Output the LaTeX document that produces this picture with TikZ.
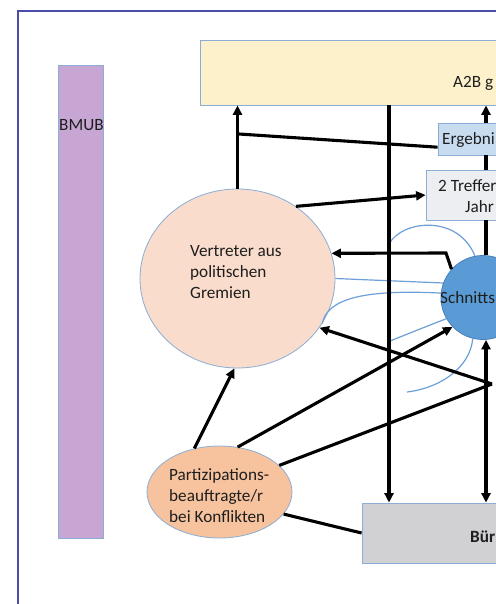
\documentclass[tikz,border=0pt]{standalone}
\usepackage{fontspec}
\setmainfont{Carlito}
\usetikzlibrary{arrows.meta,shapes.geometric,calc}

\definecolor{framecol}{HTML}{4B4BA8}
\definecolor{edge}{HTML}{8AAED6}
\definecolor{a2bfill}{HTML}{FDF1CB}
\definecolor{bmubfill}{HTML}{C7A6D4}
\definecolor{ergfill}{HTML}{C8DCF0}
\definecolor{trefffill}{HTML}{EDEEF1}
\definecolor{vertfill}{HTML}{F9DCCB}
\definecolor{partfill}{HTML}{F7C39F}
\definecolor{schfill}{HTML}{5B9BD5}
\definecolor{schedge}{HTML}{4A7EBB}
\definecolor{burfill}{HTML}{D1D1D3}
\definecolor{fieldblue}{HTML}{6DA0D8}
\definecolor{txt}{HTML}{1E1E1E}

\begin{document}
\begin{tikzpicture}[x=1pt,y=-1pt,
  lbl/.style={font=\fontsize{17.2}{21}\selectfont, inner sep=0, align=left, text=txt},
  boxshape/.style={draw=edge, line width=0.8pt, rectangle, inner sep=0},
  bubble/.style={draw=edge, line width=0.8pt, ellipse, inner sep=0},
  link/.style={line width=3.1pt, draw=black},
  arr/.style={link, -{Triangle[length=9.5pt,width=9pt]}},
  dblarr/.style={link, {Triangle[length=9.5pt,width=9pt]}-{Triangle[length=9.5pt,width=9pt]}},
  field/.style={line width=1.2pt, draw=fieldblue}
]
\useasboundingbox (0,0) rectangle (495,604);
\fill[white] (0,0) rectangle (495,604);

% outer frame
\draw[framecol, line width=2pt] (18,640) -- (18,11) -- (540,11);

% boxes
\node[boxshape, fill=a2bfill, minimum width=330pt, minimum height=65pt] (a2b) at (365,72.5) {};
\node[boxshape, fill=bmubfill, minimum width=45pt, minimum height=473pt] (bmub) at (80.5,301.5) {};
\node[boxshape, fill=ergfill, minimum width=92pt, minimum height=32pt] (erg) at (484,139) {};
\node[boxshape, fill=trefffill, minimum width=104pt, minimum height=50pt] (treff) at (478,195) {};
\node[boxshape, fill=burfill, minimum width=168pt, minimum height=60pt] (bur) at (446,533) {};

% bubbles
\node[bubble, fill=vertfill, minimum width=195pt, minimum height=179pt] (vert) at (237.5,278.5) {};
\node[bubble, fill=partfill, minimum width=145pt, minimum height=92pt] (part) at (219.5,492) {};
\node[draw=schedge, line width=0.8pt, circle, fill=schfill, minimum size=84pt, inner sep=0] (sch) at (483,297.5) {};

% labels (multi-line labels are placed by the baseline of their last line)
\node[lbl, anchor=base west] (bmubtxt) at (59,131) {BMUB};
\node[lbl, anchor=base west] (a2btxt) at (453,88) {A2B g};
\node[lbl, anchor=base west] (ergtxt) at (442,145) {Ergebni};
\node[lbl, anchor=base west] (trefftxt) at (438,191) {2 Treffer};
\node[lbl, anchor=base west] (jahrtxt) at (465,212) {Jahr};
\node[lbl, anchor=base west] (vertxt) at (190,298) {Vertreter aus\\politischen\\Gremien};
\node[lbl, anchor=base west] (schtxt) at (440,303) {Schnitts};
\node[lbl, anchor=base west] (parttxt) at (169,522) {Partizipations-\\beauftragte/r\\bei Konflikten};
\node[lbl, anchor=base west, font=\fontsize{17.2}{21}\selectfont\bfseries] (burtxt) at (470,542) {Bür};

% thin field lines round the interface node
\coordinate (f1) at (389,244);
\coordinate (f2) at (390,341);
\coordinate (f3) at (407,392);
\draw[field] (f1) .. controls (402,220) and (458,214) .. (sch.101);
\draw[field] (vert.east) -- (sch.160);
\draw[field] (vert.-28) .. controls (327,300) and (360,289) .. (sch.174);
\draw[field] (f2) .. controls (410,333) and (430,325) .. (sch.210);
\draw[field] (f3) .. controls (440,388) and (470,368) .. (sch.256);

% connectors
\coordinate (col) at (486,0);
\coordinate (mid) at (389,0);
\coordinate (ergL) at ($(erg.south west)!0.25!(erg.north west)$);
\coordinate (j1) at (239,134);
\coordinate (bend) at (446,253);
\coordinate (knot) at (492,384);

\draw[arr] (erg.north -| col) -- (a2b.south -| col);
\draw[link] (treff.north -| col) -- (erg.south -| col);
\draw[link] (treff.south -| col) -- (sch.north -| col);
\draw[arr] (vert.north) -- (vert.north |- a2b.south);
\draw[link] (ergL) -- (j1);
\draw[arr] (vert.51) -- (treff.west);
\draw[arr] (sch.138) -- (bend) -- (vert.15);
\draw[arr] (a2b.south -| mid) -- (bur.north -| mid);
\draw[dblarr] (sch.south -| col) -- (bur.north -| col);
\draw[arr] (part.120) -- (vert.268);
\draw[arr] (part.68) -- (sch.224);
\draw[link] (part.24) -- (knot);
\draw[arr] (knot) -- (vert.329);
\draw[link] (part.341) -- (bur.west);
\end{tikzpicture}
\end{document}
